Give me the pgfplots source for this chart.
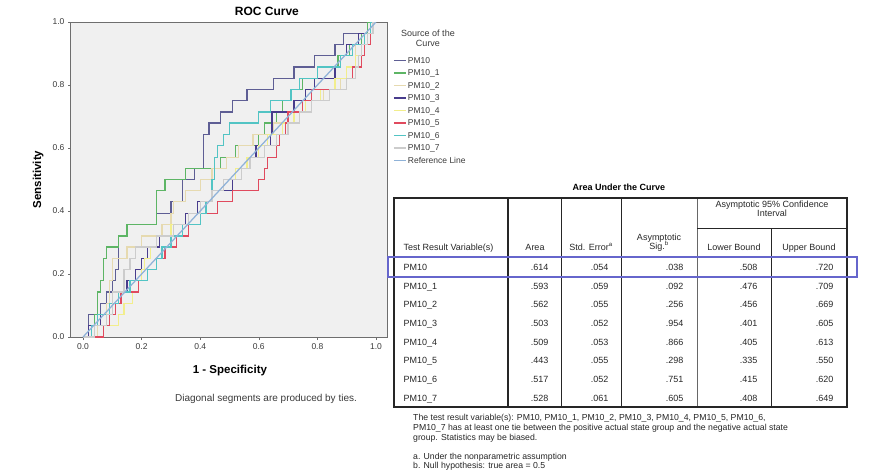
\documentclass[border=0pt]{standalone}
\usepackage{pgfplots}
\pgfplotsset{compat=1.18}
\usepackage{fontspec}
\setmainfont{Liberation Sans}
\definecolor{cPMa}{HTML}{5E5E94}
\definecolor{cPMb}{HTML}{5DB565}
\definecolor{cPMc}{HTML}{E6DAB0}
\definecolor{cPMd}{HTML}{483C8C}
\definecolor{cPMe}{HTML}{F2EE8C}
\definecolor{cPMf}{HTML}{E04A5E}
\definecolor{cPMg}{HTML}{52C4C4}
\definecolor{cPMh}{HTML}{CCCCCC}
\definecolor{cRef}{HTML}{8FB2D8}
\definecolor{plotbg}{HTML}{F0F0F0}
\definecolor{axisgray}{HTML}{6E6E6E}
\definecolor{labelgray}{HTML}{3A3A3A}
\definecolor{tabline}{HTML}{262626}
\definecolor{hlblue}{HTML}{6666CC}
\begin{document}
\begin{tikzpicture}
\path[use as bounding box] (0pt,0pt) rectangle (871pt,-474pt);
\begin{axis}[
  at={(71pt,-337pt)}, anchor=south west,
  width=316pt, height=315pt, scale only axis,
  xmin=-0.041, xmax=1.0375, ymin=0, ymax=1,
  axis background/.style={fill=plotbg},
  axis line style={draw=axisgray, line width=1pt},
  xtick={0,0.2,0.4,0.6,0.8,1}, ytick={0,0.2,0.4,0.6,0.8,1},
  xticklabels={0.0,0.2,0.4,0.6,0.8,1.0},
  yticklabels={0.0,0.2,0.4,0.6,0.8,1.0},
  tick align=outside, tick pos=left, major tick length=3pt,
  tick style={draw=axisgray, line width=0.6pt},
  ticklabel style={font=\fontsize{8.5}{10}\selectfont, text=labelgray},
  title={ROC Curve},
  title style={font=\bfseries\fontsize{12}{14}\selectfont, at={(axis description cs:0.62,1)}, anchor=south, yshift=-3.5pt},
  xlabel={1 - Specificity},
  xlabel style={font=\bfseries\fontsize{11.5}{13}\selectfont, at={(axis description cs:0.503,-0.105)}, anchor=center},
  ylabel={Sensitivity},
  ylabel style={font=\bfseries\fontsize{11.5}{13}\selectfont, at={(axis description cs:-0.104,0.5)}, anchor=center},
  legend style={at={(axis description cs:1.019,0.8897)}, anchor=north west, draw=none, fill=none,
    inner sep=0pt, row sep=0pt, column sep=1.5pt,
    font=\fontsize{8.5}{10}\selectfont, text=labelgray,
    nodes={inner sep=0pt, text height=6.5pt, text depth=6pt}},
  legend cell align=left,
  legend image code/.code={\draw[#1] (0pt,2.8pt) -- (12pt,2.8pt);},
  every axis plot/.append style={line width=1.25pt, const plot},
]
% PM10
\addplot[cPMa] coordinates {(0,0) (0.02,0.071) (0.06,0.107) (0.08,0.143) (0.10,0.179) (0.11,0.214) (0.12,0.321) (0.15,0.357) (0.25,0.393) (0.30,0.429) (0.34,0.5) (0.38,0.536) (0.41,0.643) (0.43,0.679) (0.47,0.714) (0.51,0.75) (0.56,0.786) (0.65,0.821) (0.72,0.857) (0.79,0.893) (0.86,0.929) (0.89,0.964) (0.97,1) (1,1)};
\addlegendentry{PM10}
% PM10_1
\addplot[cPMb] coordinates {(0,0) (0.03,0.036) (0.04,0.071) (0.05,0.143) (0.06,0.179) (0.07,0.25) (0.08,0.286) (0.12,0.321) (0.15,0.357) (0.25,0.464) (0.28,0.5) (0.35,0.536) (0.47,0.571) (0.52,0.607) (0.60,0.643) (0.62,0.679) (0.66,0.714) (0.68,0.75) (0.71,0.786) (0.75,0.821) (0.80,0.857) (0.87,0.893) (0.91,0.929) (0.95,0.964) (0.97,1) (1,1)};
\addlegendentry{PM10\_1}
% PM10_2
\addplot[cPMc] coordinates {(0,0) (0.05,0.071) (0.08,0.107) (0.09,0.179) (0.10,0.25) (0.15,0.286) (0.20,0.321) (0.27,0.357) (0.30,0.393) (0.31,0.429) (0.35,0.464) (0.40,0.5) (0.44,0.536) (0.49,0.571) (0.53,0.607) (0.58,0.643) (0.65,0.679) (0.70,0.714) (0.76,0.75) (0.82,0.786) (0.88,0.821) (0.92,0.857) (0.93,0.929) (0.96,0.964) (0.98,1) (1,1)};
\addlegendentry{PM10\_2}
% PM10_3
\addplot[cPMd] coordinates {(0,0) (0.02,0.036) (0.06,0.071) (0.10,0.107) (0.13,0.143) (0.15,0.179) (0.18,0.214) (0.20,0.25) (0.22,0.286) (0.26,0.321) (0.30,0.357) (0.35,0.393) (0.39,0.429) (0.44,0.464) (0.51,0.5) (0.52,0.536) (0.56,0.571) (0.59,0.607) (0.64,0.643) (0.645,0.714) (0.72,0.75) (0.76,0.786) (0.79,0.821) (0.86,0.857) (0.88,0.893) (0.90,0.929) (0.94,0.964) (0.98,1) (1,1)};
\addlegendentry{PM10\_3}
% PM10_4
\addplot[cPMe] coordinates {(0,0) (0.07,0.036) (0.12,0.071) (0.14,0.107) (0.17,0.143) (0.19,0.179) (0.20,0.214) (0.21,0.25) (0.23,0.286) (0.25,0.321) (0.30,0.357) (0.36,0.393) (0.40,0.429) (0.44,0.464) (0.48,0.5) (0.52,0.536) (0.56,0.571) (0.60,0.607) (0.63,0.643) (0.68,0.679) (0.72,0.714) (0.76,0.75) (0.81,0.786) (0.86,0.821) (0.90,0.857) (0.93,0.893) (0.95,0.929) (0.97,0.964) (0.99,1) (1,1)};
\addlegendentry{PM10\_4}
% PM10_5
\addplot[cPMf] coordinates {(0,0) (0.07,0.036) (0.09,0.071) (0.11,0.107) (0.13,0.143) (0.19,0.179) (0.22,0.214) (0.25,0.25) (0.28,0.286) (0.32,0.321) (0.36,0.357) (0.40,0.393) (0.46,0.429) (0.51,0.464) (0.60,0.5) (0.62,0.536) (0.63,0.571) (0.66,0.607) (0.67,0.643) (0.69,0.679) (0.70,0.714) (0.75,0.75) (0.78,0.786) (0.90,0.821) (0.92,0.857) (0.95,0.893) (0.96,0.929) (0.98,0.964) (0.99,1) (1,1)};
\addlegendentry{PM10\_5}
% PM10_6
\addplot[cPMg] coordinates {(0,0) (0.03,0.036) (0.05,0.071) (0.09,0.107) (0.12,0.143) (0.16,0.179) (0.22,0.214) (0.25,0.25) (0.27,0.286) (0.30,0.321) (0.34,0.357) (0.40,0.393) (0.42,0.429) (0.44,0.5) (0.45,0.571) (0.46,0.607) (0.48,0.643) (0.50,0.679) (0.60,0.714) (0.64,0.75) (0.71,0.786) (0.74,0.821) (0.80,0.857) (0.88,0.893) (0.92,0.929) (0.96,0.964) (0.98,1) (1,1)};
\addlegendentry{PM10\_6}
% PM10_7
\addplot[cPMh] coordinates {(0,0) (0.04,0.036) (0.08,0.071) (0.10,0.143) (0.14,0.214) (0.16,0.25) (0.18,0.286) (0.25,0.321) (0.31,0.357) (0.36,0.393) (0.40,0.429) (0.44,0.464) (0.48,0.5) (0.54,0.536) (0.57,0.571) (0.62,0.607) (0.66,0.643) (0.70,0.679) (0.74,0.714) (0.78,0.75) (0.84,0.786) (0.90,0.821) (0.93,0.857) (0.94,0.893) (0.95,0.929) (0.97,0.964) (0.99,1) (1,1)};
\addlegendentry{PM10\_7}
% Reference line
\addplot[cRef, sharp plot] coordinates {(0,0) (1,1)};
\addlegendentry{Reference Line}
\end{axis}
\node[font=\fontsize{9}{10}\selectfont, text=labelgray, align=center] at (428pt,-38pt) {Source of the\\Curve};
\node[font=\fontsize{10}{12}\selectfont, text=labelgray] at (266pt,-399pt) {Diagonal segments are produced by ties.};
\begin{scope}[x=1pt,y=-1pt]
\node[font=\bfseries\fontsize{9}{11}\selectfont, anchor=base] at (619,190.5) {Area Under the Curve};
% table lines
\draw[tabline, line width=0.7pt] (561,198) -- (561,407);
\draw[tabline, line width=0.7pt] (621,198) -- (621,407);
\draw[tabline!70, line width=0.7pt] (697,198) -- (697,407);
\draw[tabline, line width=0.7pt] (771,228) -- (771,407);
\draw[tabline, line width=0.7pt] (697,228) -- (847,228);
\draw[tabline, line width=0.7pt] (394,257) -- (847,257);
\draw[tabline, line width=1.3pt] (508,198) -- (508,407);
\draw[tabline, line width=1.5pt] (394,198) rectangle (847,407);
\draw[hlblue, line width=1.3pt] (388,257) rectangle (857,277);
\begin{scope}[every node/.style={font=\fontsize{9}{10}\selectfont, text=tabline}]
\node[anchor=base west] at (400,250.5) {Test Result Variable(s)};
\node[anchor=base] at (535,250.5) {Area};
\node[anchor=base] at (591,250.5) {Std. Error\textsuperscript{a}};
\node[anchor=base] at (659,240) {Asymptotic};
\node[anchor=base] at (659,249.5) {Sig.\textsuperscript{b}};
\node[anchor=base] at (772,207.5) {Asymptotic 95\% Confidence};
\node[anchor=base] at (772,216) {Interval};
\node[anchor=base] at (734,250.5) {Lower Bound};
\node[anchor=base] at (809,250.5) {Upper Bound};
\foreach \n/\a/\b/\c/\d/\e [count=\i from 0] in {
  PM10/.614/.054/.038/.508/.720,
  PM10\_1/.593/.059/.092/.476/.709,
  PM10\_2/.562/.055/.256/.456/.669,
  PM10\_3/.503/.052/.954/.401/.605,
  PM10\_4/.509/.053/.866/.405/.613,
  PM10\_5/.443/.055/.298/.335/.550,
  PM10\_6/.517/.052/.751/.415/.620,
  PM10\_7/.528/.061/.605/.408/.649}{
  \node[anchor=base west] at (400,{270.3+18.7*\i}) {\n};
  \node[anchor=base east] at (552,{270.3+18.7*\i}) {\a};
  \node[anchor=base east] at (612,{270.3+18.7*\i}) {\b};
  \node[anchor=base east] at (687,{270.3+18.7*\i}) {\c};
  \node[anchor=base east] at (761,{270.3+18.7*\i}) {\d};
  \node[anchor=base east] at (837,{270.3+18.7*\i}) {\e};
}
\end{scope}
\begin{scope}[every node/.style={font=\fontsize{8.7}{10}\selectfont, text=tabline, anchor=base west, inner sep=0pt}]
\node at (413,420.5) {The test result variable(s): PM10, PM10\_1, PM10\_2, PM10\_3, PM10\_4, PM10\_5, PM10\_6,};
\node at (413,430.5) {PM10\_7 has at least one tie between the positive actual state group and the negative actual state};
\node at (413,440.5) {group. Statistics may be biased.};
\node at (413,459.5) {a. Under the nonparametric assumption};
\node at (413,468.5) {b. Null hypothesis: true area = 0.5};
\end{scope}
\end{scope}
\end{tikzpicture}
\end{document}
